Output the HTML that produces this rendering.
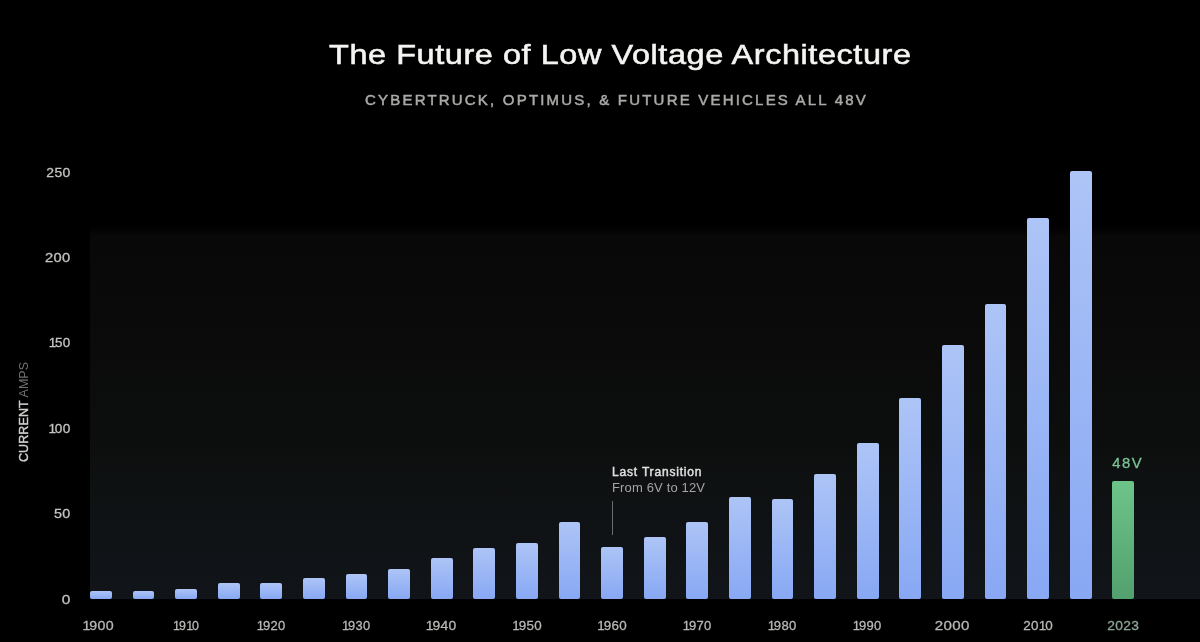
<!DOCTYPE html>
<html><head><meta charset="utf-8"><style>
*{margin:0;padding:0;box-sizing:border-box}
html,body{width:1200px;height:642px;overflow:hidden;background:#000}
body{position:relative;font-family:"Liberation Sans",Arial,sans-serif}
.title{position:absolute;left:328.5px;top:35px;white-space:nowrap;color:#f4f4f2;font-size:28px;line-height:40px;letter-spacing:0.5px;-webkit-text-stroke:0.55px #f4f4f2;transform-origin:0 0;transform:scaleX(1.158)}
.sub{position:absolute;left:365px;top:90px;white-space:nowrap;color:#a9a9a7;font-size:15px;letter-spacing:2.2px;line-height:20px;-webkit-text-stroke:0.5px #a9a9a7}
.panel{position:absolute;left:90px;top:226px;width:1110px;height:373px;background:linear-gradient(rgba(7,8,7,0) 0px,#070807 11px,#0a0b0a 35%,#0d0f0f 60%,#101316 85%,#111418)}
.bar{position:absolute;width:21.9px;border-radius:2px;background:linear-gradient(#adc4f6,#88a8f4)}
.bar.green{background:linear-gradient(#6dc489,#52a06e)}
.xl{position:absolute;top:615.7px;width:60px;text-align:center;color:#b8b8b6;-webkit-text-stroke:0.3px #b8b8b6;font-size:13px;letter-spacing:0.3px;text-indent:0.3px;line-height:20px;transform-origin:50% 50%}
.xl.g{color:#8ea898;-webkit-text-stroke-color:#8ea898}
.yl{position:absolute;left:0;width:70.6px;text-align:right;color:#c4c4c2;-webkit-text-stroke:0.3px #c4c4c2;font-size:13px;letter-spacing:0.3px;line-height:20px;transform-origin:70.3px 50%}
.yt{position:absolute;left:23.5px;top:411.8px;transform:translate(-50%,-50%) rotate(-90deg);white-space:nowrap;font-size:12.5px;line-height:14px;letter-spacing:0px}
.yt b{color:#d0d0ce;font-weight:normal;-webkit-text-stroke:0.4px #d0d0ce;letter-spacing:0.1px}
.yt span{color:#707070}
.ann{position:absolute;left:612px;top:463.9px;font-size:12.5px;line-height:16.5px;white-space:nowrap}
.ann b{color:#e0e0de;display:block;font-weight:normal;-webkit-text-stroke:0.45px #e0e0de;letter-spacing:0.82px;font-size:12px;position:relative;top:0.2px}
.ann span{color:#a4a4a2;display:block;font-size:13px;letter-spacing:0.15px}
.vline{position:absolute;left:611.5px;top:501px;width:1px;height:34px;background:#6c6c6c}
.v48{position:absolute;left:1112.3px;top:453.9px;color:#7cc496;font-size:14.8px;letter-spacing:1.5px;line-height:18px;-webkit-text-stroke:0.3px #7cc496}
.o{letter-spacing:-1.1px}

</style></head><body>
<div class="title">The Future of Low Voltage Architecture</div>
<div class="sub">CYBERTRUCK, OPTIMUS, &amp; FUTURE VEHICLES ALL 48V</div>
<div class="panel"></div>
<div class="bar" style="left:90.0px;top:591px;height:8.00px"></div>
<div class="bar" style="left:132.6px;top:591.3px;height:7.70px"></div>
<div class="bar" style="left:175.2px;top:588.7px;height:10.30px"></div>
<div class="bar" style="left:217.8px;top:583px;height:16.00px"></div>
<div class="bar" style="left:260.4px;top:583px;height:16.00px"></div>
<div class="bar" style="left:303.0px;top:578px;height:21.00px"></div>
<div class="bar" style="left:345.6px;top:574.25px;height:24.75px"></div>
<div class="bar" style="left:388.2px;top:568.5px;height:30.50px"></div>
<div class="bar" style="left:430.8px;top:557.75px;height:41.25px"></div>
<div class="bar" style="left:473.4px;top:547.8px;height:51.20px"></div>
<div class="bar" style="left:516.0px;top:543.2px;height:55.80px"></div>
<div class="bar" style="left:558.6px;top:521.9px;height:77.10px"></div>
<div class="bar" style="left:601.2px;top:546.5px;height:52.50px"></div>
<div class="bar" style="left:643.8px;top:536.5px;height:62.50px"></div>
<div class="bar" style="left:686.4px;top:522.25px;height:76.75px"></div>
<div class="bar" style="left:729.0px;top:497px;height:102.00px"></div>
<div class="bar" style="left:771.6px;top:499px;height:100.00px"></div>
<div class="bar" style="left:814.2px;top:474.2px;height:124.80px"></div>
<div class="bar" style="left:856.8px;top:442.6px;height:156.40px"></div>
<div class="bar" style="left:899.4px;top:397.5px;height:201.50px"></div>
<div class="bar" style="left:942.0px;top:344.5px;height:254.50px"></div>
<div class="bar" style="left:984.6px;top:303.75px;height:295.25px"></div>
<div class="bar" style="left:1027.2px;top:218.1px;height:380.90px"></div>
<div class="bar" style="left:1069.8px;top:171.2px;height:427.80px"></div>
<div class="bar green" style="left:1112.4px;top:481.1px;height:117.90px"></div>
<div class="xl" style="left:67.90px;transform:scaleX(1.093)"><span class="o">1</span>900</div>
<div class="xl" style="left:156.00px;transform:scaleX(0.954)"><span class="o">1</span>9<span class="o">1</span>0</div>
<div class="xl" style="left:241.00px;transform:scaleX(1.000)"><span class="o">1</span>920</div>
<div class="xl" style="left:326.35px;transform:scaleX(0.991)"><span class="o">1</span>930</div>
<div class="xl" style="left:411.20px;transform:scaleX(1.067)"><span class="o">1</span>940</div>
<div class="xl" style="left:496.70px;transform:scaleX(1.029)"><span class="o">1</span>950</div>
<div class="xl" style="left:581.70px;transform:scaleX(1.029)"><span class="o">1</span>960</div>
<div class="xl" style="left:667.00px;transform:scaleX(1.000)"><span class="o">1</span>970</div>
<div class="xl" style="left:751.90px;transform:scaleX(1.007)"><span class="o">1</span>980</div>
<div class="xl" style="left:837.10px;transform:scaleX(1.001)"><span class="o">1</span>990</div>
<div class="xl" style="left:922.40px;transform:scaleX(1.160)">2000</div>
<div class="xl" style="left:1008.20px;transform:scaleX(1.036)">20<span class="o">1</span>0</div>
<div class="xl g" style="left:1092.90px;transform:scaleX(1.063)">2023</div>
<div class="yl" style="top:162.6px;transform:scaleX(1.073)">250</div>
<div class="yl" style="top:248.0px;transform:scaleX(1.132)">200</div>
<div class="yl" style="top:333.4px;transform:scaleX(1.035)"><span class="o">1</span>50</div>
<div class="yl" style="top:418.8px;transform:scaleX(1.046)"><span class="o">1</span>00</div>
<div class="yl" style="top:504.2px;transform:scaleX(1.101)">50</div>
<div class="yl" style="top:589.6px;transform:scaleX(1.186)">0</div>
<div class="yt"><b>CURRENT</b> <span>AMPS</span></div>
<div class="ann"><b>Last Transition</b><span>From 6V to 12V</span></div>
<div class="vline"></div>
<div class="v48">48V</div>
</body></html>
